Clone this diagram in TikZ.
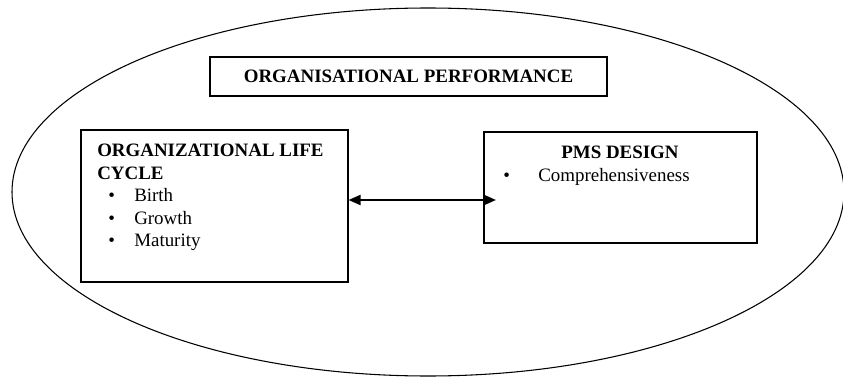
\documentclass[tikz,border=0pt]{standalone}
\usepackage{fontspec}
\setmainfont{Liberation Serif}
\usetikzlibrary{positioning,arrows.meta}

\tikzset{
  caixa/.style={draw,thick,black,inner sep=0pt},
  texto/.style={inner sep=0pt,align=left,font=\fontsize{14.2}{16.9}\selectfont},
}
\newcommand{\marca}[2]{\hspace*{#1}\makebox[#2][l]{\textbullet}}

\begin{document}
\begin{tikzpicture}[x=0.75pt,y=-0.75pt]
    \useasboundingbox (0,0) rectangle (843,378);

    % Elipse externa
    \draw[thick,black] (428,192) ellipse[x radius=416, y radius=184];

    % Caixa do titulo
    \node[caixa,minimum width=297.75pt,minimum height=29.25pt,font=\fontsize{14.2}{16}\selectfont\bfseries] (perf) at (408.5,76.5) {ORGANISATIONAL PERFORMANCE};

    % Caixa da esquerda
    \node[caixa,minimum width=200.25pt,minimum height=114pt] (ciclo) at (214.5,206) {};
    \node[texto,anchor=north west] (ciclotexto) at (97,144)
        {\textbf{ORGANIZATIONAL LIFE}\\
         \textbf{CYCLE}\\
         \marca{8.25pt}{19.5pt}Birth\\
         \marca{8.25pt}{19.5pt}Growth\\
         \marca{8.25pt}{19.5pt}Maturity};

    % Caixa da direita
    \node[caixa,minimum width=204.75pt,minimum height=83.25pt] (pms) at (620.5,187.5) {};
    \node[texto,font=\fontsize{14.2}{16}\selectfont\bfseries] (pmstitulo) at (620,152) {PMS DESIGN};
    \node[texto,anchor=north west] (pmsitem) at (503,168)
        {\makebox[26.25pt][l]{\textbullet}Comprehensiveness};

    % Seta dupla
    \coordinate (fimseta) at (496,200);
    \draw[{Triangle[length=9pt,width=7.5pt]}-{Triangle[length=9pt,width=7.5pt]},line width=1.5pt,black]
        (ciclo.east |- fimseta) -- (fimseta);

\end{tikzpicture}
\end{document}
